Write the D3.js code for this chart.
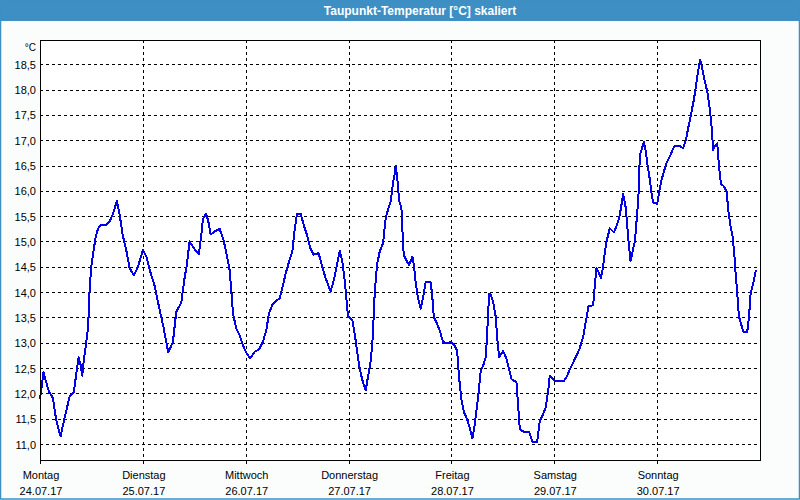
<!DOCTYPE html>
<html>
<head>
<meta charset="utf-8">
<script src="https://cdn.jsdelivr.net/npm/d3@7"></script>
<style>
  html, body { margin: 0; padding: 0; background: #fbfdfd; }
  svg { display: block; }
</style>
</head>
<body>
<svg id="chart" width="800" height="500"></svg>
<script>
// ---- data ----
const title = "Taupunkt-Temperatur [°C] skaliert";
const unitLabel = "°C";
const dayNames = ["Montag", "Dienstag", "Mittwoch", "Donnerstag", "Freitag", "Samstag", "Sonntag"];
const dayDates = ["24.07.17", "25.07.17", "26.07.17", "27.07.17", "28.07.17", "29.07.17", "30.07.17"];
const yTicks = [11.0, 11.5, 12.0, 12.5, 13.0, 13.5, 14.0, 14.5, 15.0, 15.5, 16.0, 16.5, 17.0, 17.5, 18.0, 18.5];
// hours since Monday 24.07.17 00:00
const hours = [
  0, 0.82, 1.28, 2.06, 3.0, 3.77, 4.79, 5.72, 6.89, 7.9, 8.44, 8.99, 9.46, 9.84, 10.23, 10.78, 11.25, 11.56, 11.95,
  12.49, 12.96, 13.5, 14.05, 15.29, 16.23, 17.0, 17.94, 18.56, 19.34, 20.27, 20.89, 21.91, 22.84, 24.01, 24.79,
  25.56, 26.73, 27.74, 28.83, 29.92, 31.01, 31.79, 32.96, 33.74, 34.28, 34.9, 36.07, 37.08, 37.63, 38.02, 38.79,
  39.34, 39.81, 40.97, 41.91,
  42.84, 43.47, 44.24, 44.63, 45.02, 45.8, 46.58, 47.36, 48.14, 49.07, 50.08, 51.09, 52.03, 52.8, 53.43, 54.21,
  55.14, 55.92, 56.54, 57.32, 58.25, 58.87, 59.42, 59.96, 60.82, 61.52, 62.3, 63.08, 63.86, 65.02, 65.72, 66.66,
  67.82, 68.76, 69.38, 69.93, 70.55, 71.17, 71.87, 72.88, 73.43, 73.97, 74.59, 75.22, 75.99, 76.54, 77.09, 77.55,
  77.86, 78.1, 78.64, 79.26, 80.04, 80.67, 81.21, 81.83, 82.38, 82.69, 83.0, 83.39, 83.8,
  84.33, 84.56, 84.87, 85.5, 86.12, 86.9, 87.29, 87.68, 88.22, 88.84, 89.39, 90.01, 91.1, 91.49, 91.88, 92.66,
  93.28, 94.06, 95.22, 95.85, 96.78, 97.33, 97.79, 98.34, 98.96, 99.66, 100.28, 100.9, 101.45, 102.23, 102.85,
  103.4, 104.02, 104.41, 104.8, 105.11, 105.73, 106.35, 106.66, 107.13, 108.06, 108.84, 109.47, 110.01, 111.18,
  111.57, 111.96, 112.89, 114.13, 114.91, 116.0, 116.62, 117.4, 118.03, 118.57, 118.96, 119.74, 120.13, 122.23,
  123.01, 123.78, 124.8, 125.81,
  126.74, 127.36, 127.98, 129.07, 129.46, 129.85, 130.4, 130.86, 131.41, 131.8, 132.19, 132.96, 133.9, 134.52,
  135.14, 135.61, 136.08, 136.62, 137.01, 137.4, 137.79, 138.26, 138.8, 139.35, 139.66, 139.97, 140.36, 140.9,
  141.29, 141.76, 142.3, 142.69, 143.08, 144.01, 144.48, 145.03, 145.57, 146.19, 146.97, 147.59, 148.14, 149.31,
  150.08, 150.71, 151.25, 151.87, 152.57, 153.2, 153.66, 154.05, 154.6, 155.14, 155.77, 156.31, 156.7, 157.09,
  157.48, 158.02, 158.41, 158.88, 159.58, 160.2, 160.67, 161.14, 161.6, 161.99, 162.3, 162.69, 163.08, 163.63,
  164.09, 165.03, 165.42, 165.81, 166.43, 167.05
];
const dewPoint = [
  11.88, 12.42, 12.27, 12.04, 11.91, 11.48, 11.15, 11.51, 11.93, 12.03, 12.37, 12.71, 12.57, 12.35, 12.65, 13.0,
  13.34, 14.02, 14.5, 14.81, 15.08, 15.24, 15.32, 15.32, 15.39, 15.54, 15.8, 15.54, 15.11, 14.77, 14.48, 14.33,
  14.5, 14.83, 14.71, 14.45, 14.13, 13.72, 13.3, 12.81, 13.01, 13.61, 13.79, 14.28, 14.55, 15.0, 14.85, 14.75,
  15.12, 15.45, 15.55, 15.37, 15.14, 15.21, 15.25,
  15.03, 14.77, 14.44, 14.04, 13.58, 13.28, 13.15, 12.95, 12.8, 12.69, 12.82, 12.87, 13.02, 13.25, 13.58, 13.75,
  13.83, 13.88, 14.08, 14.37, 14.64, 14.8, 15.23, 15.55, 15.55, 15.33, 15.13, 14.87, 14.74, 14.77, 14.54, 14.27,
  14.01, 14.31, 14.57, 14.82, 14.6, 14.17, 13.51, 13.45, 13.18, 12.85, 12.49, 12.26, 12.06, 12.33, 12.59, 12.99,
  13.51, 13.98, 14.54, 14.8, 14.97, 15.46, 15.63, 15.79, 16.16, 16.3, 16.5, 16.22, 15.8,
  15.66, 15.23, 14.73, 14.63, 14.53, 14.7, 14.5, 14.17, 13.87, 13.67, 13.9, 14.2, 14.2, 13.97, 13.51, 13.37,
  13.24, 13.01, 12.99, 13.02, 12.94, 12.84, 12.31, 11.88, 11.62, 11.49, 11.32, 11.11, 11.39, 11.92, 12.45,
  12.55, 12.71, 13.31, 13.97, 13.97, 13.8, 13.51, 13.11, 12.71, 12.84, 12.68, 12.48, 12.28, 12.22,
  11.75, 11.29, 11.24, 11.24, 11.04, 11.04, 11.45, 11.59, 11.73, 12.05, 12.35, 12.28, 12.24, 12.24,
  12.35, 12.5, 12.68, 12.86,
  13.12, 13.42, 13.72, 13.74, 14.14, 14.47, 14.38, 14.28, 14.51, 14.8, 15.0, 15.26, 15.18, 15.3,
  15.46, 15.69, 15.94, 15.69, 15.33, 14.93, 14.61, 14.8, 15.0, 15.56, 15.95, 16.71, 16.81, 16.97,
  16.81, 16.51, 16.22, 15.95, 15.77, 15.74, 15.99, 16.22, 16.38, 16.55, 16.68, 16.81, 16.89, 16.89,
  16.84, 17.01, 17.24, 17.5, 17.8, 18.16, 18.42, 18.59, 18.39, 18.16, 17.93, 17.6, 17.27, 16.81,
  16.88, 16.94, 16.51, 16.14, 16.09, 15.99, 15.56, 15.3, 15.1, 14.77, 14.38, 13.98, 13.52, 13.36,
  13.22, 13.22, 13.49, 13.98, 14.18, 14.44
];

// ---- drawing ----
const svg = d3.select("#chart");
const W = 800, H = 500;
const plot = { left: 40, right: 760, top: 40, bottom: 460 };
const font = "'Liberation Sans', Arial, sans-serif";

// window background & title bar
svg.append("rect").attr("x", 0).attr("y", 0).attr("width", W).attr("height", H).attr("fill", "#fbfdfd");
svg.append("rect").attr("x", 0).attr("y", 0).attr("width", W).attr("height", 21).attr("fill", "#3d8fc4");
svg.append("rect").attr("x", 0.5).attr("y", 0.5).attr("width", W - 1).attr("height", H - 1.5)
  .attr("fill", "none").attr("stroke", "#3d8fc4").attr("stroke-width", 1.5);
svg.append("text").attr("x", 420).attr("y", 14.5).attr("text-anchor", "middle")
  .attr("font-family", font).attr("font-weight", "bold").attr("font-size", 12).attr("fill", "#ffffff")
  .text(title);

// plot background
svg.append("rect").attr("x", plot.left).attr("y", plot.top)
  .attr("width", plot.right - plot.left).attr("height", plot.bottom - plot.top).attr("fill", "#ffffff");

const x = d3.scaleLinear().domain([0, 168]).range([plot.left, plot.right]);
const y = d3.scaleLinear().domain([10.684, 18.98]).range([plot.bottom, plot.top]);

const dayHours = dayNames.map((d, i) => i * 24);

// horizontal grid
svg.append("g").selectAll("line").data(yTicks).join("line")
  .attr("x1", plot.left).attr("x2", plot.right)
  .attr("y1", d => Math.round(y(d)) + 0.5).attr("y2", d => Math.round(y(d)) + 0.5)
  .attr("stroke", "#000").attr("stroke-width", 1).attr("stroke-dasharray", "3,3")
  .attr("shape-rendering", "crispEdges");

// vertical grid
svg.append("g").selectAll("line").data(dayHours.slice(1)).join("line")
  .attr("x1", d => Math.round(x(d)) + 0.5).attr("x2", d => Math.round(x(d)) + 0.5)
  .attr("y1", plot.top).attr("y2", plot.bottom)
  .attr("stroke", "#000").attr("stroke-width", 1).attr("stroke-dasharray", "3,3")
  .attr("shape-rendering", "crispEdges");

// ticks under the x axis
svg.append("g").selectAll("line").data(dayHours).join("line")
  .attr("x1", d => Math.round(x(d)) + 0.5).attr("x2", d => Math.round(x(d)) + 0.5)
  .attr("y1", plot.bottom).attr("y2", plot.bottom + 4)
  .attr("stroke", "#000").attr("stroke-width", 1).attr("shape-rendering", "crispEdges");

// y labels
const fmt = d => d.toFixed(1).replace(".", ",");
svg.append("g").selectAll("text").data(yTicks).join("text")
  .attr("x", 36).attr("y", d => y(d) + 4.5).attr("text-anchor", "end")
  .attr("font-family", font).attr("font-size", 11).attr("fill", "#000")
  .text(fmt);
svg.append("text").attr("x", 36).attr("y", 50.5).attr("text-anchor", "end")
  .attr("font-family", font).attr("font-size", 10).attr("fill", "#000").text(unitLabel);

// x labels
const xl = svg.append("g").selectAll("g").data(dayHours).join("g")
  .attr("transform", d => `translate(${x(d) + 1},0)`);
xl.append("text").attr("y", 479).attr("text-anchor", "middle")
  .attr("font-family", font).attr("font-size", 11).attr("fill", "#000")
  .text((d, i) => dayNames[i]);
xl.append("text").attr("y", 494.5).attr("text-anchor", "middle")
  .attr("font-family", font).attr("font-size", 11).attr("fill", "#000")
  .text((d, i) => dayDates[i]);

// data line
const pts = hours.map((h, i) => [h, dewPoint[i]]);
const line = d3.line().x(d => x(d[0])).y(d => y(d[1]));
svg.append("path").datum(pts).attr("d", line)
  .attr("fill", "none").attr("stroke", "#0000e6").attr("stroke-width", 2)
  .attr("stroke-linejoin", "round").attr("shape-rendering", "crispEdges");

// plot frame
svg.append("rect").attr("x", plot.left + 0.5).attr("y", plot.top + 0.5)
  .attr("width", plot.right - plot.left).attr("height", plot.bottom - plot.top)
  .attr("fill", "none").attr("stroke", "#000").attr("stroke-width", 1)
  .attr("shape-rendering", "crispEdges");
</script>
</body>
</html>
